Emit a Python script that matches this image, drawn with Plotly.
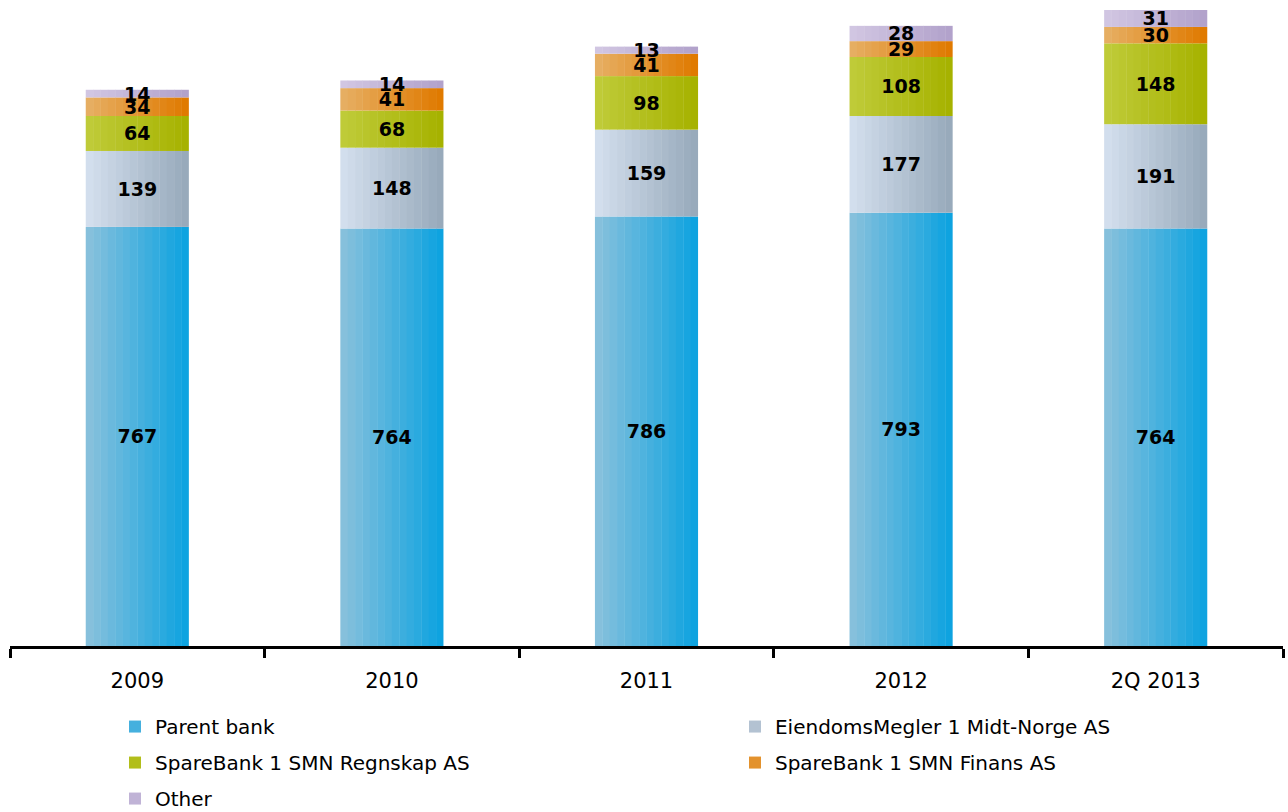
"""Stacked bar chart: contribution by company, 2009 - 2Q 2013."""

import plotly.graph_objects as go

categories = ["2009", "2010", "2011", "2012", "2Q 2013"]
parent_bank = [767, 764, 786, 793, 764]
eiendomsmegler = [139, 148, 159, 177, 191]
regnskap = [64, 68, 98, 108, 148]
finans = [34, 41, 41, 29, 30]
other = [14, 14, 13, 28, 31]

# name, values, gradient left colour, gradient right colour, legend column
series = [
    ("Parent bank", parent_bank, "#86c0dc", "#0ea3e0", "legend"),
    ("EiendomsMegler 1 Midt-Norge AS", eiendomsmegler, "#d2deed", "#98aabb", "legend2"),
    ("SpareBank 1 SMN Regnskap AS", regnskap, "#bfcb38", "#a6b200", "legend"),
    ("SpareBank 1 SMN Finans AS", finans, "#e6ae62", "#e07a00", "legend2"),
    ("Other", other, "#d1c6e2", "#b2a2cb", "legend"),
]

BAR_WIDTH = 0.405
N_SLICES = 14
FONT = "DejaVu Sans"


def mix(c1, c2, t):
    a = [int(c1[i:i + 2], 16) for i in (1, 3, 5)]
    b = [int(c2[i:i + 2], 16) for i in (1, 3, 5)]
    return "rgb({},{},{})".format(*[round(a[i] + (b[i] - a[i]) * t) for i in range(3)])


fig = go.Figure()
base = [0] * len(categories)
text_traces = []
slice_w = BAR_WIDTH / N_SLICES
for name, values, c_left, c_right, legend in series:
    # horizontal gradient: each bar is drawn as thin vertical slices
    for k in range(N_SLICES):
        t = k / (N_SLICES - 1)
        extra = 0.0015 if k < N_SLICES - 1 else 0
        fig.add_trace(go.Bar(
            x=categories, y=values, base=list(base),
            width=slice_w + extra, offset=-BAR_WIDTH / 2 + k * slice_w,
            marker=dict(color=mix(c_left, c_right, t), line=dict(width=0)),
            name=name, legend=legend, legendgroup=name,
            showlegend=(k == N_SLICES // 2), hoverinfo="skip",
        ))
    text_traces.append(go.Bar(
        x=categories, y=values, base=list(base), width=BAR_WIDTH,
        marker=dict(color="rgba(0,0,0,0)", line=dict(width=0)),
        text=[str(v) for v in values], textposition="inside",
        insidetextanchor="middle", textangle=0, constraintext="none",
        textfont=dict(family=FONT, size=19, color="#000000", weight="bold"),
        showlegend=False, name=name, legendgroup=name,
        hovertemplate="%{x}: %{y}<extra>" + name + "</extra>",
    ))
    base = [b + v for b, v in zip(base, values)]

for tr in text_traces:
    fig.add_trace(tr)

legend_common = dict(
    orientation="v", xanchor="left", yanchor="top", y=-0.096,
    font=dict(family=FONT, size=20, color="#000000"),
    bgcolor="rgba(0,0,0,0)", traceorder="grouped", tracegroupgap=7,
    itemclick=False, itemdoubleclick=False,
)

fig.update_layout(
    width=1288, height=812,
    margin=dict(l=10, r=5, t=10, b=166, autoexpand=False),
    barmode="overlay",
    plot_bgcolor="white", paper_bgcolor="white",
    font=dict(family=FONT, size=20, color="#000000"),
    legend=dict(x=0.0825, **legend_common),
    legend2=dict(x=0.5695, **legend_common),
    xaxis=dict(
        type="category", tickson="boundaries", ticks="outside", ticklen=9,
        tickwidth=3, tickcolor="#000000", showline=True, linewidth=3,
        linecolor="#000000", showgrid=False, zeroline=False,
        tickfont=dict(family=FONT, size=21, color="#000000"),
        ticklabelstandoff=14, range=[-0.5, 4.5],
    ),
    yaxis=dict(range=[0, 1164], visible=False, showgrid=False, zeroline=False),
)

# drop the default page margin so the figure sits at the window's corner
fig.write_html(
    "out.html",
    config={"displayModeBar": False},
    post_script="document.body.style.margin='0';",
)
